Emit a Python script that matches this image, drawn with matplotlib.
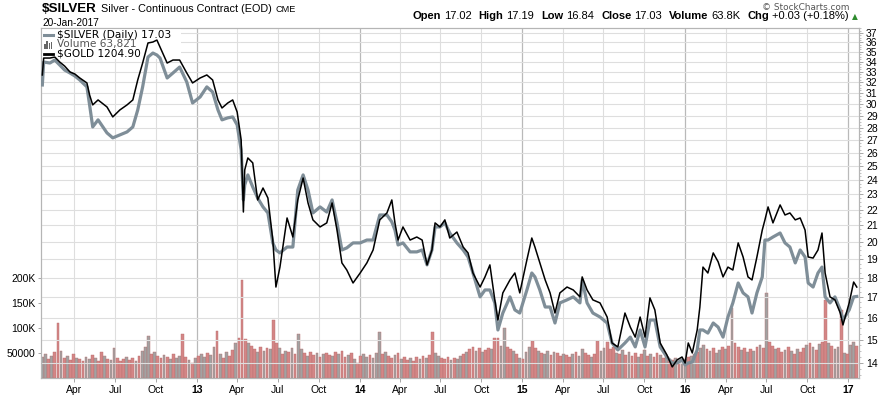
import numpy as np
import pandas as pd
import matplotlib
matplotlib.use("Agg")
import matplotlib.pyplot as plt
import matplotlib.dates as mdates
from matplotlib.ticker import FixedLocator, FuncFormatter, MultipleLocator, NullFormatter
from matplotlib.patches import Rectangle
from matplotlib.lines import Line2D

plt.rcParams['font.family'] = ['Liberation Sans', 'DejaVu Sans']

# closes (roughly twice a month, extra points at the turns)
price_dates = [
    # 2012
    "2012-01-20", "2012-01-23", "2012-02-06", "2012-02-17", "2012-02-28", "2012-03-10", "2012-03-22",
    "2012-04-02", "2012-04-13", "2012-04-29", "2012-05-05", "2012-05-12", "2012-05-24", "2012-06-13",
    "2012-06-26", "2012-07-12", "2012-07-28", "2012-08-10", "2012-08-21", "2012-09-01", "2012-09-13",
    "2012-09-24", "2012-10-03", "2012-10-10", "2012-10-26", "2012-11-08", "2012-11-23", "2012-12-09",
    "2012-12-22",
    # 2013
    "2013-01-08", "2013-01-23", "2013-02-05", "2013-02-17", "2013-02-26", "2013-03-11", "2013-03-22",
    "2013-04-01", "2013-04-10", "2013-04-15", "2013-04-18", "2013-04-25", "2013-05-06", "2013-05-17",
    "2013-05-29", "2013-06-09", "2013-06-20", "2013-06-27", "2013-07-06", "2013-07-22", "2013-08-04",
    "2013-08-15", "2013-08-27", "2013-09-07", "2013-09-18", "2013-10-04", "2013-10-19", "2013-10-31",
    "2013-11-11", "2013-11-22", "2013-12-03", "2013-12-17",
    # 2014
    "2014-01-02", "2014-01-17", "2014-01-31", "2014-02-15", "2014-03-03", "2014-03-14", "2014-03-21",
    "2014-03-28", "2014-04-08", "2014-04-24", "2014-05-09", "2014-05-21", "2014-06-01", "2014-06-12",
    "2014-06-19", "2014-06-30", "2014-07-11", "2014-07-22", "2014-08-07", "2014-08-21", "2014-09-01",
    "2014-09-12", "2014-09-28", "2014-10-09", "2014-10-20", "2014-10-31", "2014-11-07", "2014-11-18",
    "2014-12-04", "2014-12-15", "2014-12-26",
    # 2015
    "2015-01-11", "2015-01-22", "2015-01-29", "2015-02-09", "2015-02-21", "2015-03-04", "2015-03-15",
    "2015-03-26", "2015-04-11", "2015-04-25", "2015-05-10", "2015-05-15", "2015-05-26", "2015-06-08",
    "2015-06-24", "2015-07-10", "2015-07-21", "2015-08-03", "2015-08-19", "2015-08-31", "2015-09-11",
    "2015-09-22", "2015-10-03", "2015-10-14", "2015-10-25", "2015-11-06", "2015-11-21", "2015-12-03",
    "2015-12-14", "2015-12-25",
    # 2016
    "2016-01-01", "2016-01-08", "2016-01-17", "2016-01-28", "2016-02-03", "2016-02-10", "2016-02-21",
    "2016-03-04", "2016-03-15", "2016-03-26", "2016-04-06", "2016-04-17", "2016-04-29", "2016-05-10",
    "2016-05-21", "2016-05-30", "2016-06-10", "2016-06-22", "2016-06-28", "2016-07-05", "2016-07-16",
    "2016-08-01", "2016-08-12", "2016-08-23", "2016-09-04", "2016-09-15", "2016-09-26", "2016-10-03",
    "2016-10-14", "2016-10-25", "2016-11-03", "2016-11-10", "2016-11-21", "2016-12-02", "2016-12-14",
    "2016-12-20",
    # 2017
    "2017-01-03", "2017-01-13", "2017-01-20",
]

silver_close = [
    31.75, 33.97, 33.87, 34.17, 33.67, 33.18, 32.89, 32.60, 32.22, 31.57, 29.94, 28.06, 28.65, 27.57,
    27.17, 27.41, 27.65, 28.06, 29.50, 31.57, 34.47, 34.88, 34.68, 34.37, 32.41, 32.89, 33.47, 32.03,
    30.11,
    30.65, 31.57, 31.10, 29.50, 28.65, 28.82, 28.90, 28.23, 26.22, 22.63, 23.65, 24.36, 23.51, 22.76,
    22.17, 21.78, 19.94, 19.53, 19.36, 19.70, 19.70, 23.30, 24.36, 23.30, 21.78, 22.17, 21.84, 22.63,
    21.15, 19.53, 19.65, 19.94,
    19.94, 20.11, 20.11, 21.65, 21.65, 21.21, 20.71, 19.82, 19.94, 19.42, 19.42, 19.53, 18.69, 19.53,
    20.90, 20.90, 21.15, 20.53, 19.94, 19.53, 19.13, 18.25, 17.01, 17.36, 17.36, 16.71, 15.43, 16.22,
    17.01, 16.37, 16.22,
    17.36, 18.25, 18.04, 17.36, 16.51, 16.51, 15.75, 16.71, 16.86, 17.01, 16.71, 17.88, 16.71, 16.22,
    16.03, 15.75, 14.85, 14.55, 14.85, 15.11, 14.68, 15.43, 14.68, 15.89, 15.89, 14.68, 14.25, 14.00,
    14.00, 14.13,
    13.92, 14.00, 14.04, 14.55, 15.43, 15.43, 15.29, 15.75, 15.56, 15.11, 16.03, 16.71, 17.72, 17.21,
    17.01, 16.22, 17.21, 18.04, 20.11, 20.11, 20.29, 20.53, 19.94, 19.70, 18.80, 19.53, 19.13, 17.72,
    17.51, 18.25, 18.57, 17.01, 16.71, 17.01, 16.37, 15.89,
    16.37, 17.01, 17.03,
]

# $GOLD is overlaid on its own scale; these are the levels where it sits against the price axis
gold_overlay = [
    32.70, 34.37, 34.37, 34.47, 33.97, 33.57, 32.99, 32.79, 32.41, 31.94, 30.83, 29.94, 30.38, 29.76,
    28.90, 29.50, 29.94, 30.38, 32.22, 33.87, 35.93, 36.03, 36.24, 35.51, 33.87, 34.17, 34.17, 32.89,
    31.94,
    32.41, 32.70, 32.22, 30.38, 29.67, 30.11, 30.38, 29.32, 27.01, 21.84, 24.72, 25.61, 25.24, 22.63,
    23.44, 22.76, 20.11, 17.51, 18.57, 21.46, 20.29, 22.63, 24.14, 22.43, 21.34, 20.90, 21.15, 22.43,
    20.71, 18.80, 18.41, 17.72,
    18.25, 18.80, 19.53, 21.34, 21.78, 22.63, 21.15, 20.11, 20.90, 20.11, 20.29, 20.11, 18.69, 19.53,
    21.15, 20.90, 21.34, 20.23, 20.59, 19.70, 19.36, 18.25, 17.51, 18.04, 18.69, 16.86, 15.89, 17.21,
    17.88, 18.25, 17.21,
    18.97, 20.23, 19.70, 18.80, 17.88, 17.21, 16.22, 17.21, 17.51, 17.36, 17.01, 18.04, 17.36, 16.86,
    16.71, 16.03, 14.85, 14.68, 16.22, 15.56, 15.11, 16.03, 15.11, 16.96, 16.37, 14.85, 14.34, 13.84,
    14.13, 14.25,
    14.00, 14.85, 14.42, 15.43, 16.51, 18.57, 18.25, 19.36, 18.86, 18.04, 18.57, 18.41, 19.94, 19.13,
    18.04, 17.88, 19.13, 20.71, 21.34, 22.17, 21.15, 22.30, 21.65, 21.78, 21.34, 21.46, 20.71, 19.13,
    19.07, 19.53, 20.53, 18.25, 17.01, 16.86, 16.22, 15.66,
    16.71, 17.77, 17.51,
]

price_ticks = list(range(14, 38))

# weekly volume in thousands, from 20-Jan-2012
volume_k = [
    42, 48, 38, 45, 52, 110, 55, 40, 44, 36, 48, 40, 38,
    35, 42, 38, 46, 40, 34, 52, 44, 38, 36, 60, 40, 35,
    38, 42, 36, 40, 34, 45, 55, 62, 84, 48, 52, 44, 40,
    46, 42, 38, 48, 40, 44, 88, 42, 36, 30, 40, 45, 48,
    42, 50, 46, 62, 94, 48, 40, 52, 44, 56, 70, 80, 196,
    78, 70, 65, 58, 52, 62, 55, 60, 58, 116, 70, 60, 48,
    55, 52, 60, 48, 88, 58, 50, 44, 52, 46, 50, 42, 48,
    50, 46, 44, 52, 48, 55, 42, 46, 50, 38, 30, 44, 48,
    42, 46, 40, 50, 92, 48, 52, 44, 40, 46, 50, 38, 42,
    36, 40, 34, 42, 38, 44, 40, 46, 92, 50, 44, 40, 38,
    42, 36, 40, 38, 44, 48, 52, 58, 62, 55, 60, 52, 56,
    60, 58, 80, 80, 65, 100, 62, 58, 55, 48, 40, 38, 52,
    62, 75, 60, 55, 50, 48, 54, 46, 52, 50, 44, 48, 46,
    42, 48, 52, 44, 58, 50, 46, 42, 48, 75, 55, 60, 72,
    58, 62, 50, 48, 56, 46, 52, 44, 50, 42, 48, 56, 44,
    48, 42, 50, 46, 40, 44, 38, 36, 40, 34, 30, 38, 42,
    44, 48, 52, 60, 66, 58, 54, 60, 50, 56, 62, 58, 65,
    140, 70, 62, 56, 60, 52, 58, 55, 62, 66, 60, 170, 72,
    64, 58, 60, 52, 56, 62, 54, 48, 58, 52, 60, 66, 70,
    62, 56, 68, 72, 156, 70, 64, 58, 62, 136, 50, 48, 66,
    72, 64,
]
# d = down (red bar), u = up (grey bar)
volume_dir = ("uududdududdud" "duududduduudd" "dudduduuududd" "ududuuddududu"
              "uduudududdudd" "duddudududdud" "ududuududdudu" "ddududdududdu"
              "uduuududdudud" "duddududduudd" "duduududdudud" "dudduuddududu"
              "udduduududdud" "duduuddudduud" "ddudududdudud" "uddududduduud"
              "uuduududuudud" "uddududududud" "duddudududdud" "ududduduududu"
              "ud")

vol_header = "Volume 63,821"
quote = [("Open", "17.02"), ("High", "17.19"), ("Low", "16.84"), ("Close", "17.03"),
         ("Volume", "63.8K"), ("Chg", "+0.03 (+0.18%)")]

W, H = 885, 395
fig = plt.figure(figsize=(W / 100, H / 100), dpi=100)
renderer = fig.canvas.get_renderer()


def fx(px):
    return px / W


def fy(py):
    return 1 - py / H


ax_vol = fig.add_axes([fx(41), fy(378), 818 / W, 350 / H])
ax = ax_vol.twinx()

# volume bars
weeks = pd.date_range("2012-01-20", periods=len(volume_k), freq="7D")
bar_cols = ['#d48686' if c == 'd' else '#a2a2a2' for c in volume_dir[:len(volume_k)]]
ax_vol.bar(weeks, np.array(volume_k) * 1000, width=6.2, color=bar_cols,
           edgecolor='#b86e6e', linewidth=0.3)
ax_vol.set_ylim(0, 700000)
ax_vol.set_yticks([50000, 100000, 150000, 200000])
ax_vol.set_yticklabels(['50000', '100K', '150K', '200K'])
ax_vol.tick_params(axis='y', length=2, width=0.6, color='#999999', pad=2, labelsize=7.5)
ax_vol.set_xlim(pd.Timestamp("2012-01-17"), pd.Timestamp("2017-01-25"))

ax_vol.xaxis.set_major_locator(mdates.YearLocator())
ax_vol.xaxis.set_major_formatter(mdates.DateFormatter('%y'))
ax_vol.xaxis.set_minor_locator(mdates.MonthLocator(bymonth=[4, 7, 10]))
ax_vol.xaxis.set_minor_formatter(mdates.DateFormatter('%b'))
ax_vol.tick_params(axis='x', which='both', length=3, width=0.6, color='#999999', pad=2, labelsize=7.5)
ax_vol.set_axisbelow(True)
ax_vol.xaxis.grid(True, which='major', color='#b9b9b9', lw=0.9)
ax_vol.xaxis.grid(True, which='minor', color='#dedede', lw=0.8)

# price lines on a log scale
pdates = pd.to_datetime(price_dates)
ax.set_yscale('log')
ax.plot(pdates, silver_close, color='#7f8e98', lw=2.3, solid_joinstyle='round', zorder=3)
ax.plot(pdates, gold_overlay, color='black', lw=1.1, zorder=4)
ax.set_ylim(13.395, 37.55)
ax.yaxis.set_major_locator(FixedLocator(price_ticks))
ax.yaxis.set_major_formatter(FuncFormatter(lambda v, p: '%d' % round(v)))
ax.yaxis.set_minor_locator(MultipleLocator(0.25))
ax.yaxis.set_minor_formatter(NullFormatter())
ax.tick_params(axis='y', which='major', length=3, width=0.6, color='#999999', pad=2, labelsize=7.5)
ax.tick_params(axis='y', which='minor', length=1.5, width=0.5, color='#aaaaaa')
ax.yaxis.grid(True, which='major', color='#dedede', lw=0.8)

for a in (ax, ax_vol):
    for sp in a.spines.values():
        sp.set_color('#b5b5b5')
        sp.set_linewidth(0.8)

# legend block, top left inside the plot
ax.add_patch(Rectangle((fx(42), fy(59)), fx(181) - fx(42), fy(29) - fy(59), transform=fig.transFigure,
                       facecolor='white', edgecolor='none', zorder=2.5))
ax.add_line(Line2D([fx(44), fx(53)], [fy(35), fy(35)], transform=fig.transFigure, color='#7f8e98', lw=2.2, zorder=5))
ax.add_line(Line2D([fx(44), fx(53)], [fy(54), fy(54)], transform=fig.transFigure, color='black', lw=2.0, zorder=5))
for i, hgt in enumerate([5, 8, 6, 7]):
    ax.add_patch(Rectangle((fx(44 + i * 2.3), fy(48.5)), 1.6 / W, hgt / H, transform=fig.transFigure,
                           facecolor='#666666', edgecolor='none', zorder=5))
leg_rows = [("$SILVER (Daily) %.2f" % silver_close[-1], 'black', 35),
            (vol_header, '#555555', 44.5),
            ("$GOLD 1204.90", 'black', 54)]
for s, c, py in leg_rows:
    ax.text(fx(57), fy(py), s, transform=fig.transFigure, fontsize=7.6, family='DejaVu Sans',
            color=c, va='center', ha='left', zorder=6)

# header, left
x = 42
t = fig.text(fx(x), fy(12.5), "$SILVER", fontsize=9.6, fontweight='bold', va='baseline')
x += t.get_window_extent(renderer).width + 4
t = fig.text(fx(x), fy(12.5), "Silver - Continuous Contract (EOD)", fontsize=7.8, va='baseline')
x += t.get_window_extent(renderer).width + 4
fig.text(fx(x), fy(12.5), "CME", fontsize=6.6, va='baseline')
fig.text(fx(42), fy(25.5), "20-Jan-2017", fontsize=7.3, va='baseline')

# header, right
fig.text(fx(850), fy(9.5), "\u00a9 StockCharts.com", fontsize=6.4, family='DejaVu Sans',
         color='#555555', ha='right', va='baseline')
fig.text(fx(858), fy(19), "\u25b2", fontsize=5.5, family='DejaVu Sans', color='#2e8b2e',
         ha='right', va='baseline')
x = 849
for lab, val in reversed(quote):
    t = fig.text(fx(x), fy(19), val, fontsize=8, ha='right', va='baseline')
    x -= t.get_window_extent(renderer).width + 3
    t = fig.text(fx(x), fy(19), lab, fontsize=8, fontweight='bold', ha='right', va='baseline')
    x -= t.get_window_extent(renderer).width + 7

fig.canvas.draw()
for lbl in ax_vol.xaxis.get_majorticklabels():
    lbl.set_fontweight('bold')

fig.savefig("out.png", dpi=100)
